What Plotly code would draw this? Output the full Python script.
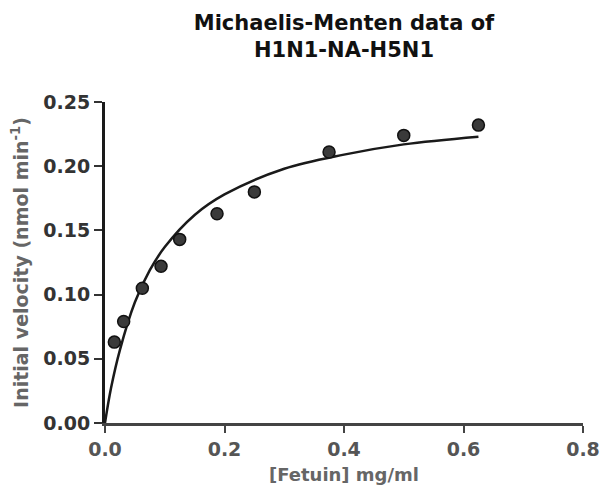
import plotly.graph_objects as go

# Measured data (substrate concentration, initial velocity)
fetuin_mg_ml = [0.015625, 0.03125, 0.0625, 0.09375, 0.125, 0.1875, 0.25, 0.375, 0.5, 0.625]
velocity = [0.063, 0.079, 0.105, 0.122, 0.143, 0.163, 0.180, 0.211, 0.224, 0.232]

# Fitted curve, points
fit_x = [0.0, 0.01, 0.025, 0.05, 0.075, 0.1, 0.15, 0.2, 0.3, 0.4, 0.5, 0.625]
fit_y = [0.0, 0.027, 0.057, 0.094, 0.119, 0.137, 0.162, 0.178, 0.198, 0.209, 0.217, 0.223]

x_ticks = [0.0, 0.2, 0.4, 0.6, 0.8]
x_tick_text = ["0.0", "0.2", "0.4", "0.6", "0.8"]
y_ticks = [0.0, 0.05, 0.10, 0.15, 0.20, 0.25]
y_tick_text = ["0.00", "0.05", "0.10", "0.15", "0.20", "0.25"]

font_family = "DejaVu Sans, Verdana, sans-serif"

fig = go.Figure()
fig.add_trace(go.Scatter(
    x=fit_x, y=fit_y, mode="lines", line=dict(color="#1a1a1a", width=2.5, shape="spline"),
    showlegend=False, hoverinfo="skip"))
fig.add_trace(go.Scatter(
    x=fetuin_mg_ml, y=velocity, mode="markers",
    marker=dict(size=12, color="#3a3a3a", line=dict(color="#111111", width=1.5)),
    showlegend=False))

fig.update_layout(
    width=601, height=496,
    margin=dict(l=105, r=18, t=102, b=73),
    paper_bgcolor="white", plot_bgcolor="white",
    title=dict(text="<b>Michaelis-Menten data of<br>H1N1-NA-H5N1</b>",
               x=0.5, xref="paper", xanchor="center", y=0.94, yanchor="top",
               font=dict(family=font_family, size=21, color="#111111")),
    font=dict(family=font_family),
)
fig.update_xaxes(
    range=[0, 0.8], tickvals=x_ticks, ticktext=x_tick_text, automargin=False,
    showgrid=False, zeroline=False, showline=True, linecolor="#444444", linewidth=2.5,
    ticks="outside", ticklen=7, tickwidth=2, tickcolor="#444444",
    tickfont=dict(family=font_family, size=19, color="#555555", weight="bold"),
    title=dict(text="[Fetuin] mg/ml", font=dict(family=font_family, size=18, color="#666666", weight="bold"), standoff=10),
)
fig.update_yaxes(
    range=[0, 0.25], tickvals=y_ticks, ticktext=y_tick_text, automargin=False,
    showgrid=False, zeroline=False, showline=True, linecolor="#1a1a1a", linewidth=3,
    ticks="outside", ticklen=8, tickwidth=2, tickcolor="#333333",
    tickfont=dict(family=font_family, size=19, color="#333333", weight="bold"),
    title=dict(text="Initial velocity (nmol min<sup>-1</sup>)",
               font=dict(family=font_family, size=19, color="#666666", weight="bold"), standoff=10),
)

fig.write_html("out.html")
